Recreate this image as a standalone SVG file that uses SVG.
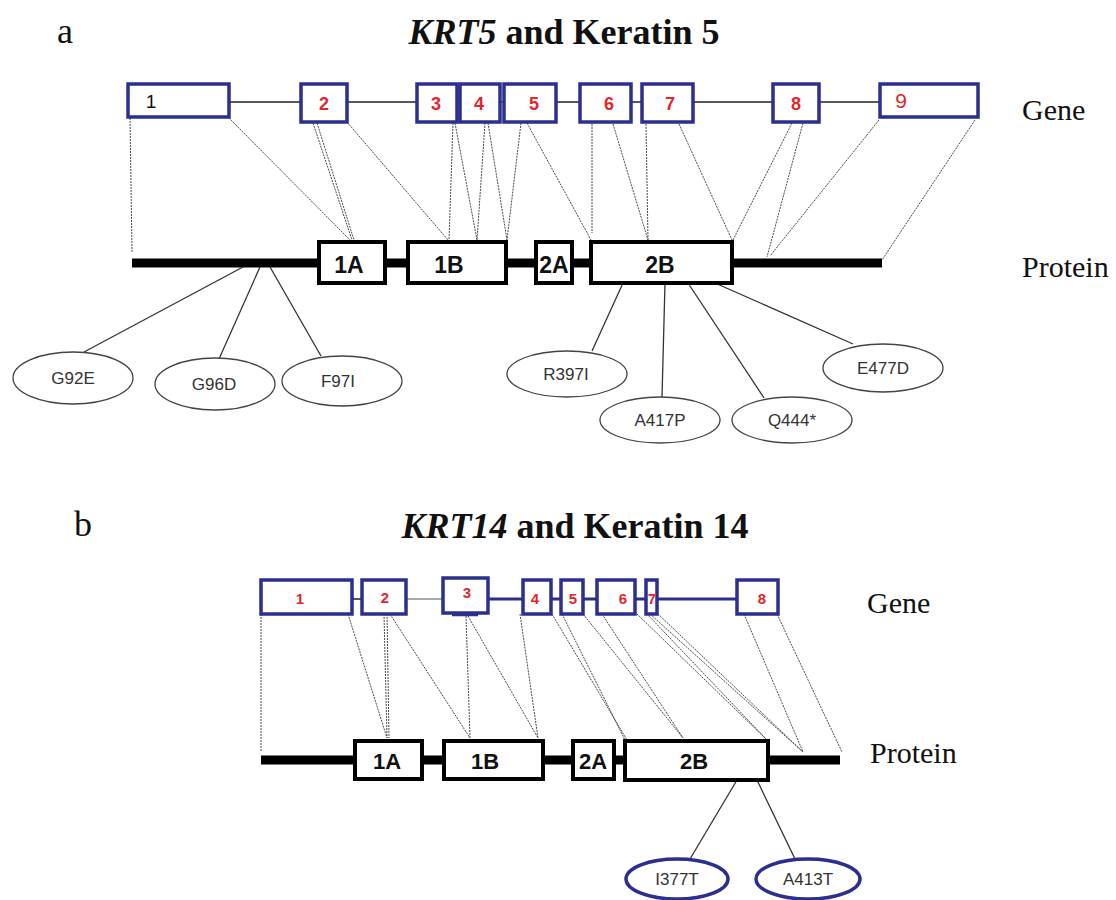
<svg xmlns="http://www.w3.org/2000/svg" width="1116" height="900" viewBox="0 0 1116 900">
<style>
.bg{fill:#fff}
.title{font-family:"Liberation Serif","Times New Roman",serif;font-weight:bold;font-size:36px;fill:#111}
.panel{font-family:"Liberation Serif","Times New Roman",serif;font-size:36px;fill:#111}
.side{font-family:"Liberation Serif","Times New Roman",serif;font-size:30px;fill:#111}
.exon{fill:#fff;stroke:#2b2f8f;stroke-width:3.5}
.exnum{font-family:"Liberation Sans",Arial,sans-serif;font-weight:bold;font-size:18px;fill:#e3262b;text-anchor:middle}
.exnumb{font-family:"Liberation Sans",Arial,sans-serif;font-weight:bold;font-size:15px;fill:#e3262b;text-anchor:middle}
.intron{stroke:#222;stroke-width:1.5;fill:none}
.intronb{stroke:#2b2f8f;stroke-width:3;fill:none}
.prot{stroke:#000;stroke-width:9;fill:none}
.dom{fill:#fff;stroke:#000;stroke-width:4}
.domt{font-family:"Liberation Sans",Arial,sans-serif;font-weight:bold;font-size:23px;fill:#111;text-anchor:middle}
.domtb{font-family:"Liberation Sans",Arial,sans-serif;font-weight:bold;font-size:22px;fill:#111;text-anchor:middle}
.dot{stroke:#4a4a4a;stroke-width:1;stroke-dasharray:2 1;fill:none}
.mline{stroke:#333;stroke-width:1.3;fill:none}
.mut{fill:#fff;stroke:#444;stroke-width:1.3}
.mutb{fill:#fff;stroke:#2b2f8f;stroke-width:3.5}
.mt{font-family:"Liberation Sans",Arial,sans-serif;font-size:17px;fill:#333;text-anchor:middle}
</style>
<rect class="bg" x="0" y="0" width="1116" height="900"/>

<!-- Panel a headings -->
<text class="panel" x="57" y="43">a</text>
<text class="title" x="564" y="44" text-anchor="middle"><tspan font-style="italic">KRT5</tspan> and Keratin 5</text>
<text class="side" x="1022" y="120">Gene</text>
<text class="side" x="1022" y="277">Protein</text>

<!-- Panel a connectors -->
<g id="connectors-a">
<line class="intron" x1="229" y1="102" x2="880" y2="102"/>
<line class="prot" x1="132" y1="263" x2="882" y2="263"/>
<line class="dot" x1="130" y1="118" x2="132" y2="252"/>
<line class="dot" x1="229" y1="118" x2="350" y2="240"/>
<line class="dot" x1="313" y1="123" x2="352" y2="240"/>
<line class="dot" x1="317" y1="123" x2="354" y2="240"/>
<line class="dot" x1="347" y1="122" x2="448" y2="240"/>
<line class="dot" x1="453" y1="123" x2="449" y2="240"/>
<line class="dot" x1="455" y1="123" x2="477" y2="240"/>
<line class="dot" x1="485" y1="123" x2="477" y2="240"/>
<line class="dot" x1="488" y1="123" x2="507" y2="240"/>
<line class="dot" x1="521" y1="123" x2="507" y2="240"/>
<line class="dot" x1="527" y1="123" x2="591" y2="240"/>
<line class="dot" x1="592" y1="124" x2="592" y2="233"/>
<line class="dot" x1="613" y1="124" x2="648" y2="240"/>
<line class="dot" x1="646" y1="124" x2="648" y2="240"/>
<line class="dot" x1="679" y1="124" x2="732" y2="240"/>
<line class="dot" x1="792" y1="123" x2="733" y2="240"/>
<line class="dot" x1="803" y1="123" x2="767" y2="257"/>
<line class="dot" x1="879" y1="120" x2="770" y2="256"/>
<line class="dot" x1="975" y1="120" x2="882" y2="260"/>
<line class="mline" x1="243" y1="267" x2="84" y2="352"/>
<line class="mline" x1="260" y1="267" x2="219" y2="359"/>
<line class="mline" x1="270" y1="267" x2="321" y2="356"/>
<line class="mline" x1="623" y1="283" x2="592" y2="351"/>
<line class="mline" x1="665" y1="283" x2="662" y2="397"/>
<line class="mline" x1="688" y1="283" x2="764" y2="398"/>
<line class="mline" x1="715" y1="283" x2="853" y2="344"/>
</g>

<!-- Panel a gene exons -->
<g id="a-exon1"><rect class="exon" x="128" y="84" width="101" height="33"/><text x="151" y="108" font-family="Liberation Sans,Arial,sans-serif" font-size="19" fill="#111" text-anchor="middle">1</text></g>
<g id="a-exon2"><rect class="exon" x="301" y="84" width="46" height="38"/><text class="exnum" x="324" y="110">2</text></g>
<g id="a-exon3"><rect class="exon" x="417" y="84" width="40" height="38"/><text class="exnum" x="436" y="110">3</text></g>
<g id="a-exon4"><rect class="exon" x="460" y="84" width="40" height="38"/><text class="exnum" x="479" y="110">4</text></g>
<g id="a-exon5"><rect class="exon" x="504" y="84" width="52" height="38"/><text class="exnum" x="534" y="110">5</text></g>
<g id="a-exon6"><rect class="exon" x="580" y="84" width="51" height="38"/><text class="exnum" x="609" y="110">6</text></g>
<g id="a-exon7"><rect class="exon" x="642" y="84" width="51" height="38"/><text class="exnum" x="670" y="110">7</text></g>
<g id="a-exon8"><rect class="exon" x="773" y="84" width="46" height="38"/><text class="exnum" x="796" y="110">8</text></g>
<g id="a-exon9"><rect class="exon" x="880" y="84" width="98" height="33"/><text x="901" y="108" font-family="Liberation Sans,Arial,sans-serif" font-size="21" fill="#e3262b" text-anchor="middle">9</text></g>

<!-- Panel a protein domains -->
<g id="a-1A"><rect class="dom" x="319" y="242" width="66" height="41"/><text class="domt" x="349" y="273">1A</text></g>
<g id="a-1B"><rect class="dom" x="408" y="242" width="98" height="41"/><text class="domt" x="449" y="273">1B</text></g>
<g id="a-2A"><rect class="dom" x="536" y="242" width="36" height="41"/><text class="domt" x="554" y="273">2A</text></g>
<g id="a-2B"><rect class="dom" x="591" y="242" width="141" height="41"/><text class="domt" x="660" y="273">2B</text></g>

<!-- Panel a mutations -->
<g id="a-G92E"><ellipse class="mut" cx="73" cy="378" rx="60" ry="26"/><text class="mt" x="73" y="384">G92E</text></g>
<g id="a-G96D"><ellipse class="mut" cx="215" cy="384" rx="60" ry="26"/><text class="mt" x="214" y="390">G96D</text></g>
<g id="a-F97I"><ellipse class="mut" cx="342" cy="381" rx="60" ry="25"/><text class="mt" x="338" y="387">F97I</text></g>
<g id="a-R397I"><ellipse class="mut" cx="567" cy="374" rx="60" ry="23"/><text class="mt" x="566" y="380">R397I</text></g>
<g id="a-A417P"><ellipse class="mut" cx="660" cy="420" rx="60" ry="23"/><text class="mt" x="660" y="426">A417P</text></g>
<g id="a-Q444"><ellipse class="mut" cx="792" cy="420" rx="60" ry="23"/><text class="mt" x="792" y="426">Q444*</text></g>
<g id="a-E477D"><ellipse class="mut" cx="883" cy="368" rx="60" ry="24"/><text class="mt" x="883" y="374">E477D</text></g>

<!-- Panel b headings -->
<text class="panel" x="74" y="536">b</text>
<text class="title" x="575" y="538" text-anchor="middle"><tspan font-style="italic">KRT14</tspan> and Keratin 14</text>
<text class="side" x="867" y="613">Gene</text>
<text class="side" x="870" y="763">Protein</text>

<!-- Panel b connectors -->
<g id="connectors-b">
<line class="intron" x1="352" y1="599" x2="362" y2="599"/>
<line stroke="#555" stroke-width="1.2" x1="406" y1="599" x2="443" y2="599"/>
<line class="intronb" x1="488" y1="599" x2="737" y2="599"/>
<line class="prot" x1="261" y1="760" x2="840" y2="760"/>
<line class="dot" x1="261" y1="614" x2="261" y2="752"/>
<line class="dot" x1="348" y1="614" x2="387" y2="738"/>
<line class="dot" x1="384" y1="614" x2="387" y2="738"/>
<line class="dot" x1="387" y1="614" x2="389" y2="738"/>
<line class="dot" x1="390" y1="614" x2="470" y2="738"/>
<line class="dot" x1="466" y1="616" x2="470" y2="738"/>
<line class="dot" x1="468" y1="616" x2="538" y2="738"/>
<line class="dot" x1="520" y1="614" x2="538" y2="738"/>
<line class="dot" x1="552" y1="614" x2="627" y2="740"/>
<line class="dot" x1="562" y1="614" x2="625" y2="740"/>
<line class="dot" x1="583" y1="614" x2="683" y2="738"/>
<line class="dot" x1="602" y1="614" x2="683" y2="738"/>
<line class="dot" x1="637" y1="614" x2="767" y2="740"/>
<line class="dot" x1="647" y1="614" x2="767" y2="740"/>
<line class="dot" x1="650" y1="614" x2="803" y2="752"/>
<line class="dot" x1="658" y1="614" x2="803" y2="752"/>
<line class="dot" x1="744" y1="614" x2="803" y2="752"/>
<line class="dot" x1="777" y1="614" x2="842" y2="752"/>
<line class="mline" x1="737" y1="780" x2="690" y2="859"/>
<line class="mline" x1="757" y1="780" x2="795" y2="859"/>
</g>

<!-- Panel b gene exons -->
<g id="b-exon1"><rect class="exon" x="261" y="580" width="91" height="34"/><text class="exnumb" x="300" y="604">1</text></g>
<g id="b-exon2"><rect class="exon" x="362" y="580" width="44" height="34"/><text class="exnumb" x="385" y="603">2</text></g>
<g id="b-exon3"><rect class="exon" x="443" y="578" width="45" height="35"/><line stroke="#2b2f8f" stroke-width="2.5" x1="452" y1="615" x2="478" y2="615"/><text class="exnumb" x="467" y="598">3</text></g>
<g id="b-exon4"><rect class="exon" x="523" y="580" width="28" height="34"/><text class="exnumb" x="535" y="604">4</text></g>
<g id="b-exon5"><rect class="exon" x="561" y="580" width="22" height="34"/><text class="exnumb" x="573" y="604">5</text></g>
<g id="b-exon6"><rect class="exon" x="597" y="580" width="38" height="34"/><text class="exnumb" x="623" y="604">6</text></g>
<g id="b-exon7"><rect class="exon" x="646" y="580" width="11" height="34"/><text class="exnumb" x="652" y="604">7</text></g>
<g id="b-exon8"><rect class="exon" x="737" y="580" width="41" height="34"/><text class="exnumb" x="762" y="604">8</text></g>

<!-- Panel b protein domains -->
<g id="b-1A"><rect class="dom" x="355" y="741" width="67" height="38"/><text class="domtb" x="387" y="769">1A</text></g>
<g id="b-1B"><rect class="dom" x="444" y="741" width="99" height="38"/><text class="domtb" x="485" y="769">1B</text></g>
<g id="b-2A"><rect class="dom" x="573" y="741" width="41" height="38"/><text class="domtb" x="593" y="769">2A</text></g>
<g id="b-2B"><rect class="dom" x="625" y="741" width="143" height="39"/><text class="domtb" x="694" y="769">2B</text></g>

<!-- Panel b mutations -->
<g id="b-I377T"><ellipse class="mutb" cx="677" cy="879" rx="51" ry="20"/><text class="mt" x="677" y="885">I377T</text></g>
<g id="b-A413T"><ellipse class="mutb" cx="808" cy="879" rx="52" ry="20"/><text class="mt" x="808" y="885">A413T</text></g>
</svg>
